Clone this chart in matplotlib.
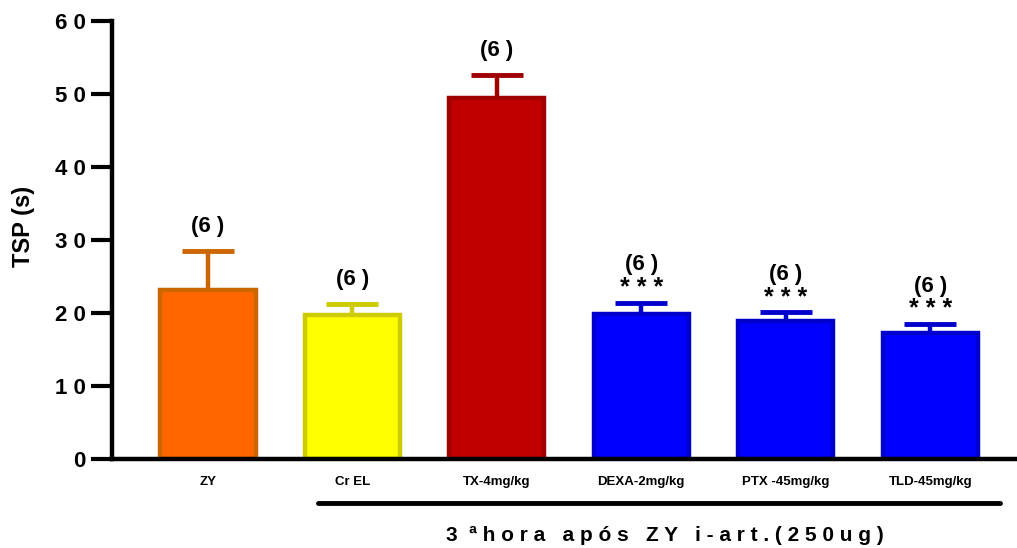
import matplotlib
matplotlib.use("Agg")
import matplotlib.pyplot as plt

categories = ["ZY", "Cr EL", "TX-4mg/kg", "DEXA-2mg/kg", "PTX -45mg/kg", "TLD-45mg/kg"]
means = [23.2, 19.7, 49.5, 19.9, 18.9, 17.3]
errors = [5.3, 1.5, 3.1, 1.5, 1.2, 1.2]
n_labels = ["(6 )", "(6 )", "(6 )", "(6 )", "(6 )", "(6 )"]
signif = ["", "", "", "* * *", "* * *", "* * *"]
face_colors = ["#FF6600", "#FFFF00", "#C00000", "#0000FF", "#0000FF", "#0000FF"]
edge_colors = ["#CC6600", "#CCCC00", "#A00000", "#0000CC", "#0000CC", "#0000CC"]
yticks = [0, 10, 20, 30, 40, 50, 60]

plt.rcParams['font.family'] = ['Liberation Sans', 'DejaVu Sans']
fig = plt.figure(figsize=(10.17, 5.48), dpi=100)
ax = fig.add_axes([0.110, 0.162, 0.89, 0.800])

x = list(range(len(categories)))
ax.bar(x, means, width=0.66, color=face_colors, edgecolor=edge_colors, linewidth=3.2, zorder=2)
for xi, m, e, c in zip(x, means, errors, edge_colors):
    ax.errorbar(xi, m, yerr=[[0], [e]], fmt='none', ecolor=c, elinewidth=3.2,
                capsize=18.5, capthick=3.5, zorder=1)

for xi, m, e, nl, s in zip(x, means, errors, n_labels, signif):
    top = m + e
    if s:
        ax.text(xi, top + 2.0, s, ha='center', va='center', fontsize=18, fontweight='bold')
        ax.text(xi, top + 5.2, nl, ha='center', va='center', fontsize=16, fontweight='bold')
    else:
        ax.text(xi, top + 3.4, nl, ha='center', va='center', fontsize=16, fontweight='bold')

ax.set_xlim(-0.664, 5.6)
ax.set_ylim(0, 60)
ax.set_yticks(yticks)
ax.set_yticklabels([" ".join(str(v)) for v in yticks], fontsize=16, fontweight='bold')
ax.set_xticks(x)
ax.set_xticklabels(categories, fontsize=9.5, fontweight='bold')
ax.tick_params(axis='x', length=0, pad=12)
ax.tick_params(axis='y', direction='out', length=15, width=3, pad=4)
for sp in ['top', 'right']:
    ax.spines[sp].set_visible(False)
for sp in ['left', 'bottom']:
    ax.spines[sp].set_linewidth(3.2)
ax.set_ylabel("TSP (s)", fontsize=17, fontweight='bold')
ax.yaxis.set_label_coords(-0.085, 0.532)

# group line and label
fig.add_artist(plt.Line2D([318/1017, 1000/1017], [1 - 503/548, 1 - 503/548],
                          color='black', linewidth=3.5, solid_capstyle='round'))
fig.text(665/1017, 1 - 535/548, "3  ª h o r a   a p ó s   Z Y   i - a r t . ( 2 5 0 u g )",
         ha='center', va='center', fontsize=15, fontweight='bold')

fig.savefig("out.png", dpi=100)
